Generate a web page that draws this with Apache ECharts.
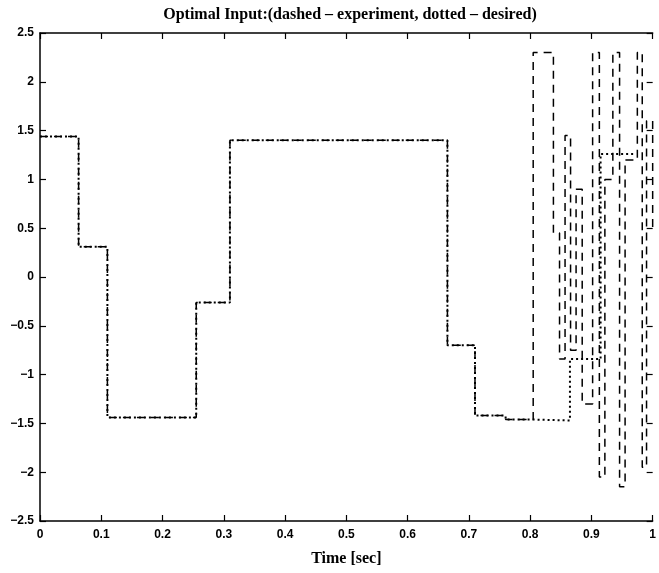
<!DOCTYPE html>
<html>
<head>
<meta charset="utf-8">
<script src="https://cdn.jsdelivr.net/npm/echarts@6/dist/echarts.min.js"></script>
<style>html,body{margin:0;padding:0;background:#fff}#c{width:659px;height:573px}</style>
</head>
<body>
<div id="c"></div>
<script>
// Desired input (dotted): switch times and new levels
const tDesired = [0, 0.063, 0.11, 0.255, 0.31, 0.665, 0.71, 0.76, 0.8, 0.865, 0.915, 0.972];
const vDesired = [1.44, 0.31, -1.44, -0.26, 1.40, -0.70, -1.42, -1.46, -1.47, -0.84, 1.26, 1.26];
// Experiment input (dashed): switch times and new levels
const tExp = [0, 0.063, 0.11, 0.255, 0.31, 0.665, 0.71, 0.76, 0.805, 0.838, 0.848, 0.857, 0.866, 0.875, 0.885, 0.902, 0.913, 0.922, 0.935, 0.946, 0.955, 0.975, 0.983, 0.99, 1.0];
const vExp = [1.44, 0.31, -1.44, -0.26, 1.40, -0.70, -1.42, -1.46, 2.3, 0.45, -0.84, 1.45, -0.75, 0.9, -1.3, 2.3, -2.05, 1.0, 2.3, -2.15, 1.2, 2.3, -1.95, 1.6, 0.5];
const xTicks = [0, 0.1, 0.2, 0.3, 0.4, 0.5, 0.6, 0.7, 0.8, 0.9, 1];
const yTicks = [-2.5, -2, -1.5, -1, -0.5, 0, 0.5, 1, 1.5, 2, 2.5];

const chart = echarts.init(document.getElementById('c'), null, {renderer: 'canvas'});
const labelFont = {color: '#000', fontFamily: 'Liberation Sans, Arial, sans-serif', fontWeight: 'bold', fontSize: 12};
const axisLine = {show: true, onZero: false, lineStyle: {color: '#000', width: 1.5}};
const tick = {show: true, inside: true, length: 6, lineStyle: {color: '#000', width: 1.2}};
const fmt = v => String(+(+v).toFixed(1)).replace('-', '\u2212');

chart.setOption({
  animation: false,
  title: {
    text: 'Optimal Input:(dashed \u2013 experiment, dotted \u2013 desired)',
    left: 345, top: 2, textAlign: 'center',
    textStyle: {fontFamily: 'Liberation Serif, Times New Roman, serif', fontSize: 16, fontWeight: 'bold', color: '#000'}
  },
  grid: {left: 40, right: 3, top: 33, bottom: 52},
  xAxis: [{
    type: 'value', min: 0, max: 1, interval: 0.1, position: 'bottom',
    axisLine: axisLine, axisTick: tick, splitLine: {show: false},
    axisLabel: Object.assign({margin: 8, formatter: fmt}, labelFont),
    name: 'Time [sec]', nameLocation: 'middle', nameGap: 30,
    nameTextStyle: {fontFamily: 'Liberation Serif, Times New Roman, serif', fontSize: 16, fontWeight: 'bold', color: '#000'}
  }, {
    type: 'value', min: 0, max: 1, interval: 0.1, position: 'top',
    axisLine: axisLine, axisTick: tick, axisLabel: {show: false}, splitLine: {show: false}
  }],
  yAxis: [{
    type: 'value', min: -2.5, max: 2.5, interval: 0.5, position: 'left',
    axisLine: axisLine, axisTick: tick, splitLine: {show: false},
    axisLabel: Object.assign({margin: 6, formatter: fmt}, labelFont)
  }, {
    type: 'value', min: -2.5, max: 2.5, interval: 0.5, position: 'right',
    axisLine: {show: false, onZero: false}, axisTick: tick, axisLabel: {show: false}, splitLine: {show: false}
  }],
  series: [{
    name: 'desired', type: 'line', step: 'end', symbol: 'none',
    data: tDesired.map((t, i) => [t, vDesired[i]]),
    lineStyle: {color: '#000', width: 2, type: [2, 3]}
  }, {
    name: 'experiment', type: 'line', step: 'end', symbol: 'none',
    data: tExp.map((t, i) => [t, vExp[i]]),
    lineStyle: {color: '#000', width: 1.5, type: [8, 6]}
  }]
});
</script>
</body>
</html>
